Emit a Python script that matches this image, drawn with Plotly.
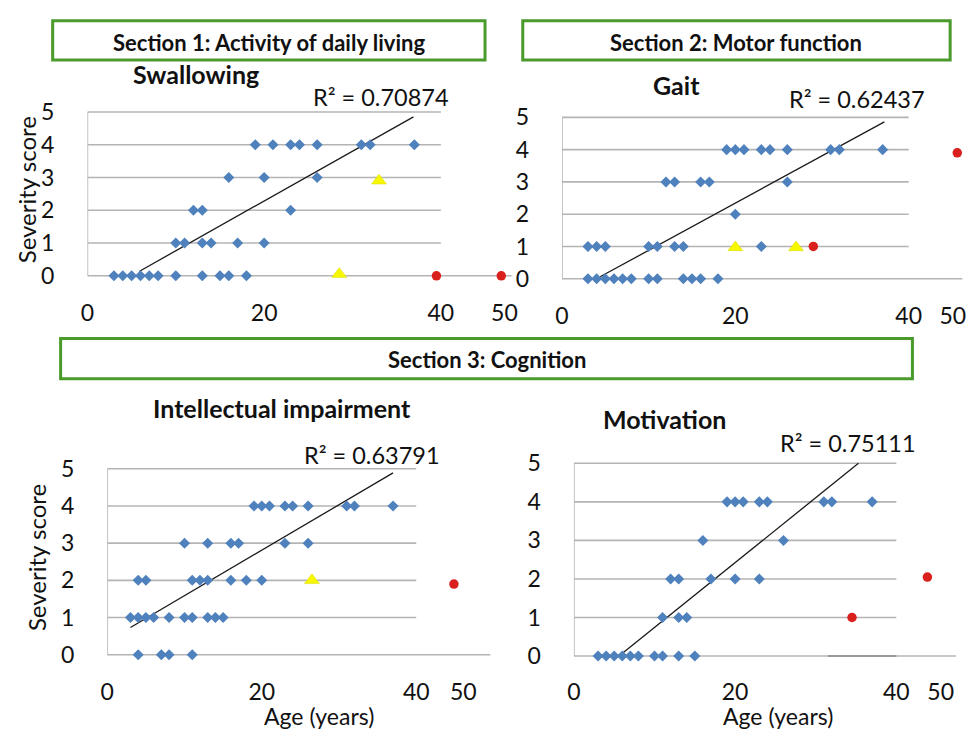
import plotly.graph_objects as go

W, H = 971, 732

# ---------------- data ----------------
# Panel 1: Swallowing
sw_x = [3, 4, 5, 6, 7, 8, 10, 13, 15, 16, 18,
        10, 11, 13, 14, 17, 20,
        12, 13, 23,
        16, 20, 26,
        19, 21, 23, 24, 26, 31, 32, 37]
sw_y = [0, 0, 0, 0, 0, 0, 0, 0, 0, 0, 0,
        1, 1, 1, 1, 1, 1,
        2, 2, 2,
        3, 3, 3,
        4, 4, 4, 4, 4, 4, 4, 4]
sw_tri_x = [33, 28.5]
sw_tri_y = [2.9, 0.05]
sw_red_x = [39.5, 49.5]
sw_red_y = [0, 0]
sw_trend_x = [5.9, 36.9]
sw_trend_y = [0.14, 4.85]
sw_r2 = "R² = 0.70874"

# Panel 2: Gait
ga_x = [3, 4, 5, 6, 7, 8, 10, 11, 14, 15, 16, 18,
        3, 4, 5, 10, 11, 13, 14, 23,
        20,
        12, 13, 16, 17, 26,
        19, 20, 21, 23, 24, 26, 31, 32, 37]
ga_y = [0, 0, 0, 0, 0, 0, 0, 0, 0, 0, 0, 0,
        1, 1, 1, 1, 1, 1, 1, 1,
        2,
        3, 3, 3, 3, 3,
        4, 4, 4, 4, 4, 4, 4, 4, 4]
ga_tri_x = [20, 27]
ga_tri_y = [0.97, 0.97]
ga_red_x = [29, 51]
ga_red_y = [1, 3.9]
ga_trend_x = [4.4, 37.2]
ga_trend_y = [0.06, 4.86]
ga_r2 = "R² = 0.62437"

# Panel 3: Intellectual impairment
ii_x = [4, 7, 8, 11,
        3, 4, 5, 6, 8, 10, 11, 13, 14, 15,
        4, 5, 11, 12, 13, 16, 18, 20,
        10, 13, 16, 17, 23, 26,
        19, 20, 21, 23, 24, 26, 31, 32, 37]
ii_y = [0, 0, 0, 0,
        1, 1, 1, 1, 1, 1, 1, 1, 1, 1,
        2, 2, 2, 2, 2, 2, 2, 2,
        3, 3, 3, 3, 3, 3,
        4, 4, 4, 4, 4, 4, 4, 4, 4]
ii_tri_x = [26.5]
ii_tri_y = [2.0]
ii_red_x = [48]
ii_red_y = [1.9]
ii_trend_x = [3.0, 37.0]
ii_trend_y = [0.73, 4.89]
ii_r2 = "R² = 0.63791"

# Panel 4: Motivation
mo_x = [3, 4, 5, 6, 7, 8, 10, 11, 13, 15,
        11, 13, 14,
        12, 13, 17, 20, 23,
        16, 26,
        19, 20, 21, 23, 24, 31, 32, 37]
mo_y = [0, 0, 0, 0, 0, 0, 0, 0, 0, 0,
        1, 1, 1,
        2, 2, 2, 2, 2,
        3, 3,
        4, 4, 4, 4, 4, 4, 4, 4]
mo_red_x = [34.5, 47]
mo_red_y = [1, 2.05]
mo_trend_x = [5.6, 35.3]
mo_trend_y = [0.0, 5.0]
mo_r2 = "R² = 0.75111"

x_tick_vals = [0, 20, 40, 50]
x_tick_text = ["0", "20", "40", "50"]
y_tick_vals = [0, 1, 2, 3, 4, 5]

# ---------------- styling / layout ----------------
BLUE = "#4f81bd"
RED = "#d9201c"
YELLOW = "#f7f700"
GRID = "#b4b4b4"
GREEN = "#4a9a2c"
FONT = "Lato"
TICK = 23

# left px of x=0, px per x unit, x max (display), y px of 0, px per y unit,
# break compression, 0-line end, x tick label standoff
panels = [
    dict(left=81, ppx=8.9, xmax=49, y0=273, ppy=33.4, k=0.72, ext=48.0, sx=14),
    dict(left=559, ppx=8.73, xmax=47, y0=276, ppy=32.9, k=0.51, ext=46.2, sx=14),
    dict(left=101, ppx=7.78, xmax=50, y0=659.3, ppy=37.9, k=0.61, ext=49.6, sx=13),
    dict(left=571, ppx=8.12, xmax=48, y0=660.7, ppy=39.3, k=0.55, ext=47.4, sx=11),
]


def disp(ages, k):
    return [a if a <= 40 else 40 + (a - 40) * k for a in ages]


fig = go.Figure()
series = [
    (sw_x, sw_y, sw_tri_x, sw_tri_y, sw_red_x, sw_red_y, sw_trend_x, sw_trend_y),
    (ga_x, ga_y, ga_tri_x, ga_tri_y, ga_red_x, ga_red_y, ga_trend_x, ga_trend_y),
    (ii_x, ii_y, ii_tri_x, ii_tri_y, ii_red_x, ii_red_y, ii_trend_x, ii_trend_y),
    (mo_x, mo_y, [], [], mo_red_x, mo_red_y, mo_trend_x, mo_trend_y),
]

shapes = []
layout_axes = {}
YMIN, YMAX = -0.22, 5.22
for i, (p, s) in enumerate(zip(panels, series), start=1):
    bx, by, tx, ty, rx, ry, lx, ly = s
    xa = "x" if i == 1 else f"x{i}"
    ya = "y" if i == 1 else f"y{i}"
    k = p["k"]
    # trend line
    fig.add_trace(go.Scatter(x=disp(lx, k), y=ly, mode="lines", xaxis=xa, yaxis=ya,
                             line=dict(color="#1a1a1a", width=1.3), showlegend=False,
                             hoverinfo="skip"))
    fig.add_trace(go.Scatter(x=disp(bx, k), y=by, mode="markers", xaxis=xa, yaxis=ya,
                             marker=dict(symbol="diamond", size=8.5, color=BLUE),
                             showlegend=False))
    if tx:
        fig.add_trace(go.Scatter(x=disp(tx, k), y=ty, mode="markers", xaxis=xa, yaxis=ya,
                                 marker=dict(symbol="triangle-up", size=13, color=YELLOW,
                                             line=dict(color="#d8d800", width=0.5)),
                                 showlegend=False))
    fig.add_trace(go.Scatter(x=disp(rx, k), y=ry, mode="markers", xaxis=xa, yaxis=ya,
                             marker=dict(symbol="circle", size=9.5, color=RED),
                             showlegend=False))

    xl = p["left"]
    xr = xl + p["xmax"] * p["ppx"]
    yb = p["y0"] - YMIN * p["ppy"]
    yt = p["y0"] - YMAX * p["ppy"]
    key = "" if i == 1 else str(i)
    layout_axes["xaxis" + key] = dict(
        domain=[xl / W, min(xr / W, 1)], range=[0, p["xmax"]], anchor=ya,
        tickvals=disp(x_tick_vals, k), ticktext=x_tick_text,
        showgrid=False, zeroline=False, showline=False, ticks="",
        tickfont=dict(family=FONT, size=TICK, color="#111"), ticklabelstandoff=p["sx"],
        fixedrange=True)
    layout_axes["yaxis" + key] = dict(
        domain=[1 - yb / H, 1 - yt / H], range=[YMIN, YMAX], anchor=xa,
        tickvals=y_tick_vals, showgrid=False, zeroline=False, showline=False, ticks="",
        tickfont=dict(family=FONT, size=TICK, color="#111"), ticklabelstandoff=32,
        fixedrange=True)
    # gridlines
    for g in y_tick_vals[1:]:
        shapes.append(dict(type="line", xref=xa, yref=ya, x0=0, x1=40, y0=g, y1=g,
                           line=dict(color=GRID, width=1.6), layer="below"))
    shapes.append(dict(type="line", xref=xa, yref=ya, x0=0, x1=p["ext"], y0=0, y1=0,
                       line=dict(color=GRID, width=1.6), layer="below"))
    shapes.append(dict(type="line", xref=xa, yref=ya, x0=0, x1=0, y0=0, y1=5,
                       line=dict(color=GRID, width=1.6), layer="below"))
    if i == 4:
        shapes.append(dict(type="line", xref=xa, yref=ya, x0=31.5, x1=40, y0=0, y1=0,
                           line=dict(color="#8a8a8a", width=1.6), layer="below"))

# section boxes
for (x0, y0, x1, y1) in [(46, 13, 481.5, 53), (519.5, 13, 950, 53), (54, 337, 912, 378)]:
    shapes.append(dict(type="rect", xref="paper", yref="paper",
                       x0=x0 / W, x1=x1 / W, y0=1 - y1 / H, y1=1 - y0 / H,
                       line=dict(color=GREEN, width=3), fillcolor="rgba(0,0,0,0)"))


def ann(text, x, y, size, bold=False, angle=0):
    return dict(text=f"<b>{text}</b>" if bold else text, x=x / W, y=1 - y / H,
                xref="paper", yref="paper", showarrow=False, textangle=angle,
                xanchor="center", yanchor="middle",
                font=dict(family=FONT, size=size, color="#111"))


annotations = [
    ann("Section 1: Activity of daily living", 264, 35, 22, True),
    ann("Section 2: Motor function", 734, 35, 22, True),
    ann("Section 3: Cognition", 483, 358, 22, True),
    ann("Swallowing", 190, 67, 25, True),
    ann("Gait", 674, 79, 25, True),
    ann("Intellectual impairment", 277, 408, 25, True),
    ann("Motivation", 662, 419, 25, True),
    ann(sw_r2, 377, 91, 23.5),
    ann(ga_r2, 856, 93, 23.5),
    ann(ii_r2, 368, 456, 23.5),
    ann(mo_r2, 847, 443, 23.5),
    ann("Severity score", 20, 185, 24, False, -90),
    ann("Severity score", 29, 560, 24, False, -90),
    ann("Age (years)", 314, 722, 23),
    ann("Age (years)", 777, 722, 23),
]

fig.update_layout(width=W, height=H, margin=dict(l=0, r=0, t=0, b=0),
                  paper_bgcolor="white", plot_bgcolor="rgba(0,0,0,0)",
                  shapes=shapes, annotations=annotations, showlegend=False,
                  **layout_axes)
fig.write_html("out.html", config={"displayModeBar": False},
               post_script="document.body.style.margin='0';document.body.style.overflow='hidden';")
